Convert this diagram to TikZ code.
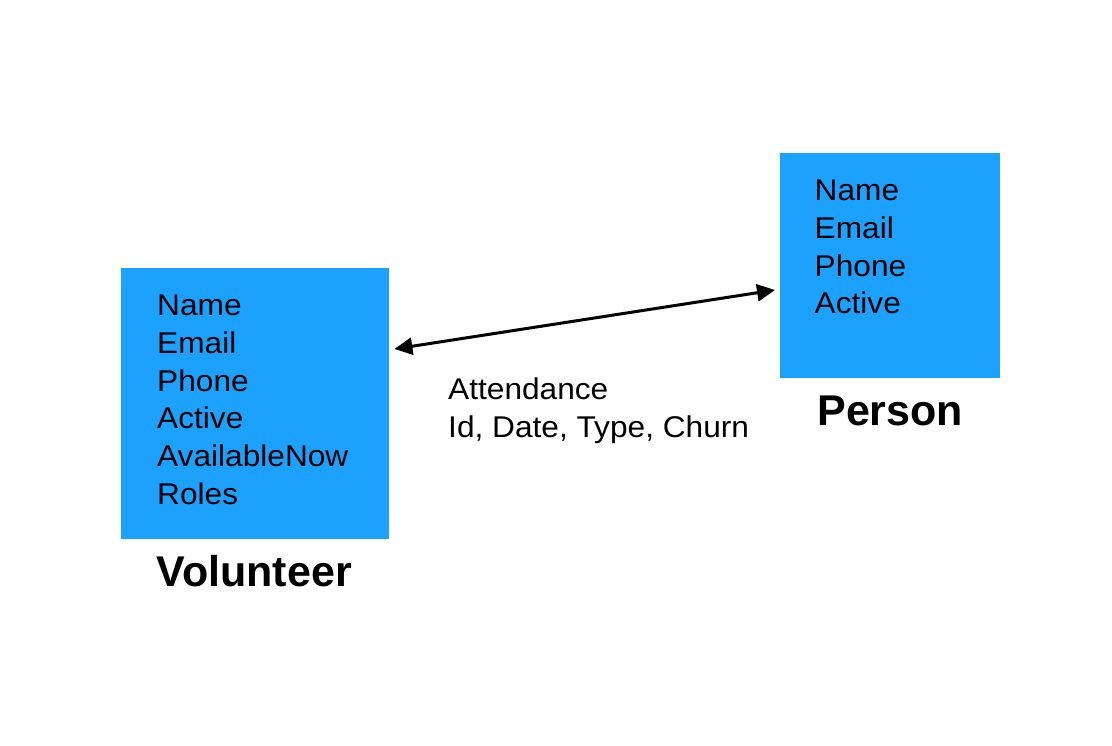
\documentclass[tikz,border=0pt]{standalone}
\usepackage{fontspec}
\setmainfont{Liberation Sans}
\newfontfamily\fieldfont[FakeStretch=1.055]{Liberation Sans}
\usetikzlibrary{arrows.meta}
\definecolor{boxblue}{RGB}{29,161,254}
\tikzset{
  entity/.style={fill=boxblue,draw=none,inner sep=0pt,anchor=north west},
  fields/.style={anchor=north west,inner sep=0pt,align=left,
    font=\fieldfont\fontsize{30}{37.7}\selectfont},
  title/.style={anchor=base,inner sep=0pt,font=\fontsize{43}{50}\selectfont\bfseries},
}
\begin{document}
\begin{tikzpicture}[x=1pt,y=-1pt]
   \useasboundingbox (0,0) rectangle (1112,746) ;
   % the two tables
   \node[entity,minimum width=268pt,minimum height=271pt] (volunteer) at (121,268) {} ;
   \node[entity,minimum width=220pt,minimum height=225pt] (person) at (780,153) {} ;
   \node[fields] (volunteer fields) at ([shift={(36,27)}]volunteer.north west)
      {Name\\Email\\Phone\\Active\\AvailableNow\\Roles} ;
   \node[fields] (person fields) at ([shift={(34.5,27)}]person.north west)
      {Name\\Email\\Phone\\Active} ;
   \node[title] (volunteer title) at ([shift={(-1,47.5)}]volunteer.south) {Volunteer} ;
   \node[title] (person title) at ([shift={(0,47.5)}]person.south) {Person} ;
   % link between them
   \coordinate (volunteer end) at ([shift={(5,81)}]volunteer.north east) ;
   \coordinate (person end) at ([shift={(-5,137)}]person.north west) ;
   \draw[line width=3pt,{Triangle[length=18pt,width=17pt]}-{Triangle[length=18pt,width=17pt]}]
      (volunteer end) -- (person end) ;
   \node[fields] (attendance) at (448,378) {Attendance\\Id, Date, Type, Churn} ;
\end{tikzpicture}
\end{document}
